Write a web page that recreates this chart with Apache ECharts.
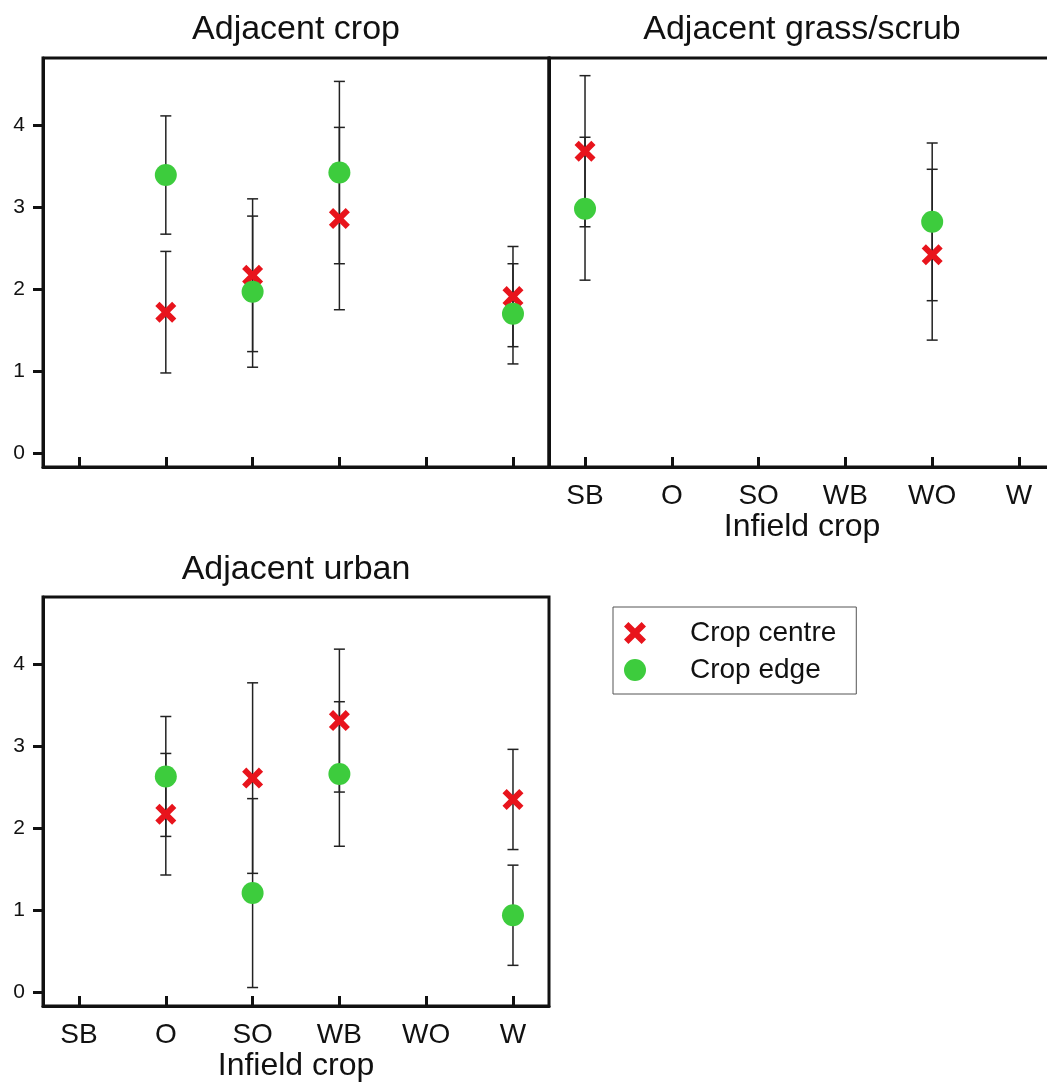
<!DOCTYPE html>
<html>
<head>
<meta charset="utf-8">
<script src="https://cdn.jsdelivr.net/npm/echarts@6/dist/echarts.min.js"></script>
<style>
  html, body { margin: 0; padding: 0; background: #ffffff; }
  #chart { width: 1047px; height: 1082px; }
</style>
</head>
<body>
<div id="chart"></div>
<script>
// Infield crop categories (x positions 1..6)
const categories = ['SB', 'O', 'SO', 'WB', 'WO', 'W'];
const yTicks = [0, 1, 2, 3, 4];
const panelTitles = ['Adjacent crop', 'Adjacent grass/scrub', 'Adjacent urban'];
const xAxisTitle = 'Infield crop';
const seriesNames = ['Crop centre', 'Crop edge'];

// Adjacent crop: mean and error half-width per infield crop
const cropCentreMean = [null, 1.72, 2.17, 2.86, null, 1.91];
const cropCentreErr  = [null, 0.74, 0.93, 1.11, null, 0.61];
const cropEdgeMean   = [null, 3.39, 1.97, 3.42, null, 1.70];
const cropEdgeErr    = [null, 0.72, 0.92, 1.11, null, 0.61];

// Adjacent grass/scrub
const grassCentreMean = [3.68, null, null, null, 2.42, null];
const grassCentreErr  = [0.92, null, null, null, 1.04, null];
const grassEdgeMean   = [2.98, null, null, null, 2.82, null];
const grassEdgeErr    = [0.87, null, null, null, 0.96, null];

// Adjacent urban
const urbanCentreMean = [null, 2.17, 2.61, 3.31, null, 2.35];
const urbanCentreErr  = [null, 0.74, 1.16, 0.87, null, 0.61];
const urbanEdgeMean   = [null, 2.63, 1.21, 2.66, null, 0.94];
const urbanEdgeErr    = [null, 0.73, 1.15, 0.88, null, 0.61];

const panels = [
  { centre: [cropCentreMean, cropCentreErr],  edge: [cropEdgeMean, cropEdgeErr] },
  { centre: [grassCentreMean, grassCentreErr], edge: [grassEdgeMean, grassEdgeErr] },
  { centre: [urbanCentreMean, urbanCentreErr], edge: [urbanEdgeMean, urbanEdgeErr] }
];

const FONT = 'Liberation Sans, Arial, Helvetica, sans-serif';
const INK = '#111111';
const RED = '#e8141c';
const GREEN = '#3dcc3d';
const CROSS = 'path://M0,2 L2,0 L5,3 L8,0 L10,2 L7,5 L10,8 L8,10 L5,7 L2,10 L0,8 L3,5 Z';
const xTickValues = categories.map((c, i) => i + 1);

// The grass/scrub panel runs past the right edge of the canvas
const grids = [
  { left: 43, top: 58,  width: 506, height: 409 },
  { left: 549, top: 58, width: 506, height: 409 },
  { left: 43, top: 597, width: 506, height: 409 }
];

function points(means) {
  const out = [];
  means.forEach((m, i) => { if (m !== null) out.push([i + 1, m]); });
  return out;
}
function bars(means, errs) {
  const out = [];
  means.forEach((m, i) => { if (m !== null) out.push([i + 1, m - errs[i], m + errs[i]]); });
  return out;
}

function renderErrorBar(params, api) {
  const x = api.value(0);
  const lo = api.coord([x, api.value(1)]);
  const hi = api.coord([x, api.value(2)]);
  const w = 5.5;
  const style = { stroke: '#222222', lineWidth: 1.5 };
  return {
    type: 'group',
    children: [
      { type: 'line', shape: { x1: lo[0], y1: lo[1], x2: hi[0], y2: hi[1] }, style },
      { type: 'line', shape: { x1: lo[0] - w, y1: lo[1], x2: lo[0] + w, y2: lo[1] }, style },
      { type: 'line', shape: { x1: hi[0] - w, y1: hi[1], x2: hi[0] + w, y2: hi[1] }, style }
    ]
  };
}

const xAxes = grids.map((g, i) => ({
  gridIndex: i,
  type: 'value',
  min: 0.585,
  max: 6.415,
  axisLine: { show: true, onZero: false, lineStyle: { color: INK, width: 3 } },
  axisTick: { show: true, inside: true, length: 10, customValues: xTickValues,
              lineStyle: { color: INK, width: 3 } },
  axisLabel: { show: i > 0, customValues: xTickValues, margin: 15,
               formatter: v => categories[Math.round(v) - 1],
               fontSize: 28, color: INK, fontFamily: FONT },
  splitLine: { show: false },
  name: i > 0 ? xAxisTitle : '',
  nameLocation: 'middle',
  nameGap: 43,
  nameTextStyle: { fontSize: 32, color: INK, fontFamily: FONT }
}));

const yAxes = grids.map((g, i) => ({
  gridIndex: i,
  type: 'value',
  min: -0.165,
  max: 4.815,
  axisLine: { show: true, onZero: false, lineStyle: { color: INK, width: 3 } },
  axisTick: { show: i !== 1, inside: false, length: 10, customValues: yTicks,
              lineStyle: { color: INK, width: 3 } },
  axisLabel: { show: i !== 1, customValues: yTicks, margin: 18,
               fontSize: 21, color: INK, fontFamily: FONT },
  splitLine: { show: false }
}));

const series = [];
panels.forEach((p, i) => {
  series.push({
    name: 'error bars', type: 'custom', xAxisIndex: i, yAxisIndex: i, z: 2,
    renderItem: renderErrorBar, encode: { x: 0, y: [1, 2] },
    data: bars(p.centre[0], p.centre[1]).concat(bars(p.edge[0], p.edge[1])),
    silent: true
  });
  series.push({
    name: seriesNames[0], type: 'scatter', xAxisIndex: i, yAxisIndex: i, z: 3,
    symbol: CROSS, symbolSize: 21, itemStyle: { color: RED, opacity: 1 },
    data: points(p.centre[0])
  });
  series.push({
    name: seriesNames[1], type: 'scatter', xAxisIndex: i, yAxisIndex: i, z: 4,
    symbol: 'circle', symbolSize: 22, itemStyle: { color: GREEN, opacity: 1 },
    data: points(p.edge[0])
  });
});

const titlePositions = [
  { x: 296, y: 13 },
  { x: 802, y: 13 },
  { x: 296, y: 553 }
];

const option = {
  animation: false,
  backgroundColor: '#ffffff',
  textStyle: { fontFamily: FONT },
  title: panelTitles.map((t, i) => ({
    text: t, left: titlePositions[i].x, top: titlePositions[i].y, textAlign: 'center', padding: 0,
    textStyle: { fontSize: 34, fontWeight: 'normal', color: INK, fontFamily: FONT }
  })),
  legend: {
    orient: 'vertical', left: 613, top: 607,
    data: seriesNames,
    itemWidth: 22, itemHeight: 22, itemGap: 9,
    padding: [12, 20, 10, 11],
    borderColor: '#555555', borderWidth: 1, borderRadius: 0,
    selectedMode: false,
    textStyle: { fontSize: 28, color: INK, fontFamily: FONT, padding: [0, 0, 0, 39] }
  },
  grid: grids.map(g => Object.assign({ show: true, borderColor: INK, borderWidth: 3,
                                       backgroundColor: 'transparent',
                                       outerBoundsMode: 'none', containLabel: false }, g)),
  xAxis: xAxes,
  yAxis: yAxes,
  series: series
};

const chart = echarts.init(document.getElementById('chart'), null, { renderer: 'canvas' });
chart.setOption(option);
</script>
</body>
</html>
